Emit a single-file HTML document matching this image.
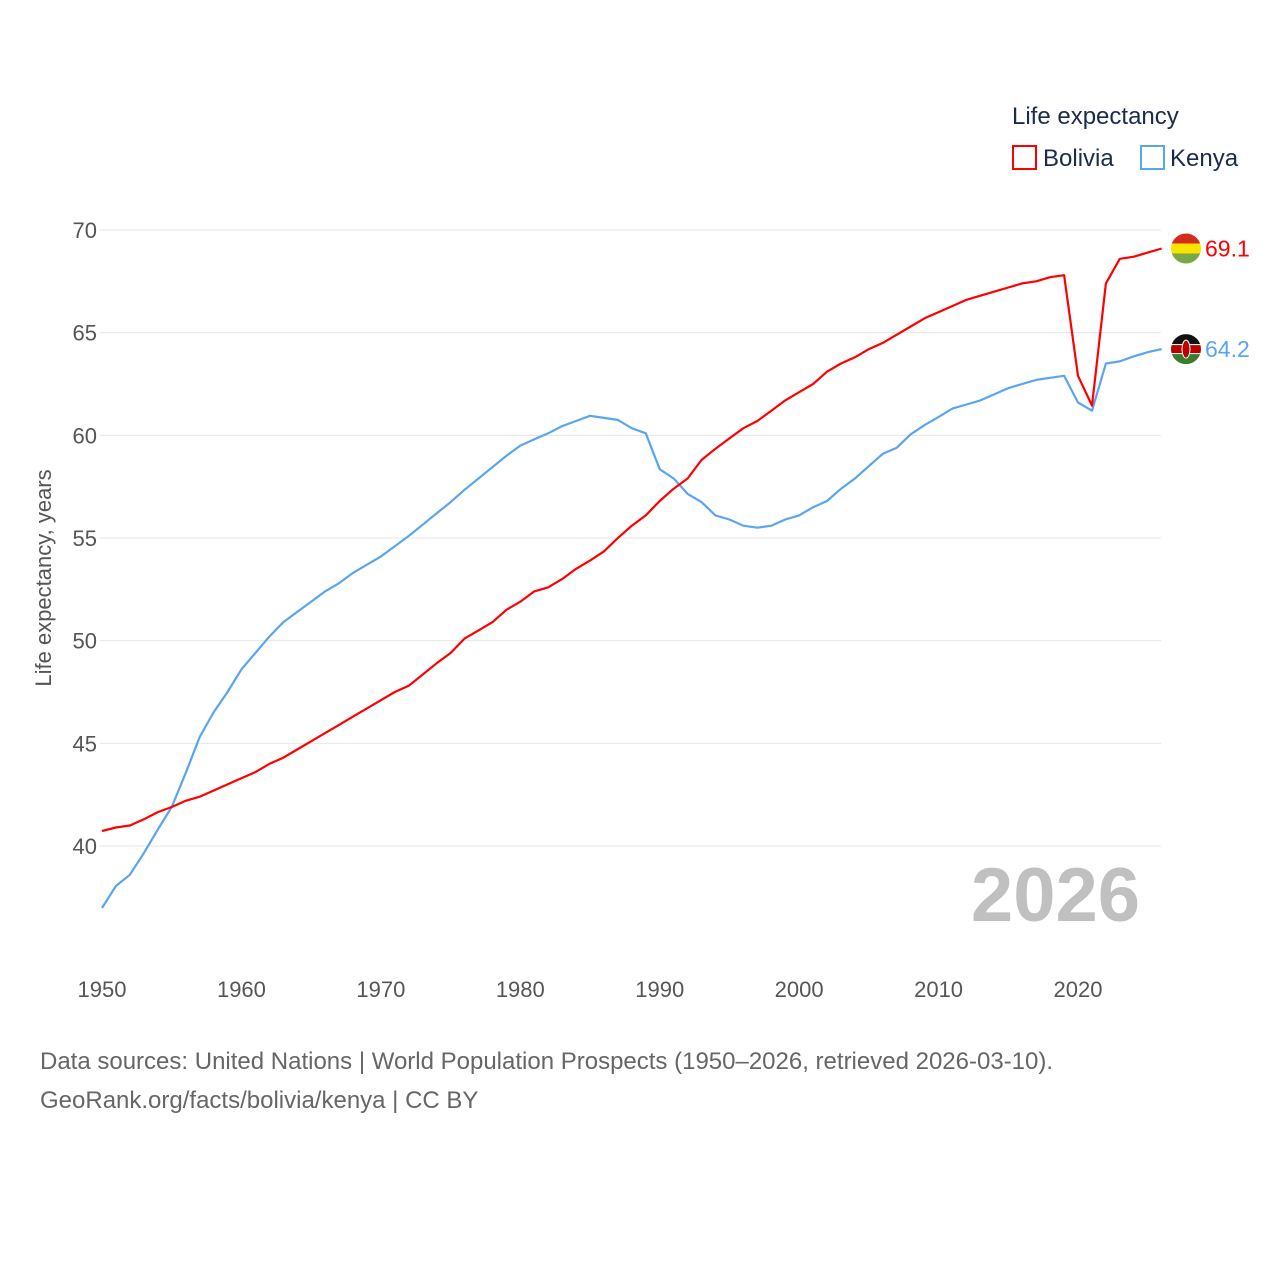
<!DOCTYPE html>
<html><head><meta charset="utf-8">
<style>
html,body{margin:0;padding:0;background:#fff;}
svg{display:block;font-family:"Liberation Sans",sans-serif;}
</style></head>
<body>
<svg id="chart" width="1280" height="1280" viewBox="0 0 1280 1280">
  <g id="grid"></g>
  <g id="yticks"></g>
  <g id="xticks"></g>
  <text transform="translate(51,578) rotate(-90)" text-anchor="middle" font-size="22" fill="#555">Life expectancy, years</text>
  <text x="1140" y="921" text-anchor="end" font-size="76" font-weight="bold" fill="#c0c0c0">2026</text>
  <g id="series"></g>
  <g>
    <text x="1012" y="124" font-size="24" fill="#1a2b4c">Life expectancy</text>
    <g>
      <rect x="1013" y="146" width="23" height="23" fill="none" stroke="#ff0000" stroke-width="2"/>
      <text x="1043" y="166" font-size="24" fill="#1a2b4c">Bolivia</text>
    </g>
    <g>
      <rect x="1141" y="146" width="23" height="23" fill="none" stroke="#5aa5f0" stroke-width="2"/>
      <text x="1170" y="166" font-size="24" fill="#1a2b4c">Kenya</text>
    </g>
  </g>
  <g id="ends"></g>
  <text x="40" y="1069" font-size="24" fill="#666">Data sources: United Nations | World Population Prospects (1950–2026, retrieved 2026-03-10).</text>
  <text x="40" y="1108" font-size="24" fill="#666">GeoRank.org/facts/bolivia/kenya | CC BY</text>
</svg>
<script>
const years = [];
for (let y = 1950; y <= 2026; y++) years.push(y);
const bolivia = [40.73,40.9,41.0,41.3,41.65,41.9,42.2,42.4,42.7,43.0,43.3,43.6,44.0,44.3,44.7,45.1,45.5,45.9,46.3,46.7,47.1,47.5,47.8,48.35,48.9,49.4,50.1,50.5,50.9,51.5,51.9,52.4,52.6,53.0,53.5,53.9,54.35,55.0,55.6,56.1,56.8,57.4,57.9,58.8,59.35,59.85,60.35,60.7,61.2,61.7,62.1,62.5,63.1,63.5,63.8,64.2,64.5,64.9,65.3,65.7,66.0,66.3,66.6,66.8,67.0,67.2,67.4,67.5,67.7,67.8,62.9,61.45,67.4,68.6,68.7,68.9,69.1];
const kenya = [36.98,38.05,38.6,39.65,40.8,41.9,43.55,45.3,46.5,47.5,48.6,49.4,50.2,50.9,51.4,51.9,52.4,52.8,53.3,53.7,54.1,54.6,55.1,55.65,56.2,56.75,57.35,57.9,58.45,59.0,59.5,59.8,60.1,60.45,60.7,60.95,60.85,60.75,60.35,60.1,58.35,57.9,57.15,56.75,56.1,55.9,55.6,55.5,55.6,55.9,56.1,56.5,56.8,57.4,57.9,58.5,59.1,59.4,60.05,60.5,60.9,61.3,61.5,61.7,62.0,62.3,62.5,62.7,62.8,62.9,61.6,61.2,63.5,63.6,63.85,64.05,64.2];
const yTicks = [40,45,50,55,60,65,70];
const xTicks = [1950,1960,1970,1980,1990,2000,2010,2020];

const NS = "http://www.w3.org/2000/svg";
const xS = v => 102 + (v - 1950) * 13.943;
const yS = v => 846 - (v - 40) * 20.533;
function mk(tag, attrs, parent){const e=document.createElementNS(NS,tag);for(const k in attrs)e.setAttribute(k,attrs[k]);parent.appendChild(e);return e;}

const grid=document.getElementById('grid'), yt=document.getElementById('yticks'), xt=document.getElementById('xticks');
yTicks.forEach(v=>{
  const l=mk('line',{x1:100,x2:1161,y1:yS(v),y2:yS(v),stroke:'#e6e6e6','stroke-width':1},grid);
  
  
  const t=mk('text',{x:97,y:yS(v)+8,'text-anchor':'end','font-size':22,fill:'#555'},yt);
  t.textContent=v;
  
  
});
xTicks.forEach(v=>{
  const t=mk('text',{x:xS(v),y:997,'text-anchor':'middle','font-size':22,fill:'#555'},xt);
  t.textContent=v;
  
  
});
const ser=document.getElementById('series');
function line(data,color,name){
  const d=data.map((v,i)=>(i?'L':'M')+xS(years[i]).toFixed(1)+','+yS(v).toFixed(1)).join(' ');
  const p=mk('path',{d:d,fill:'none',stroke:color,'stroke-width':2.2,'stroke-linejoin':'round'},ser);
  
  
}
line(kenya,'#5aa5f0','kenya-line');
line(bolivia,'#ff0000','bolivia-line');

const ends=document.getElementById('ends');
function endLabel(data,color,name,flag){
  const v=data[data.length-1], cx=1186, cy=yS(v);
  const g=mk('g',{},ends);
  
  
  const cid='clip-'+name;
  const cp=mk('clipPath',{id:cid},g); mk('circle',{cx:cx,cy:cy,r:15},cp);
  const fg=mk('g',{'clip-path':'url(#'+cid+')'},g);
  flag.forEach((c,i)=>mk('rect',{x:cx-15,y:cy-15+i*10,width:30,height:10,fill:c},fg));
  if(name==='kenya'){
    mk('rect',{x:cx-15,y:cy-4,width:30,height:8,fill:'#bb0000'},fg);
    mk('ellipse',{cx:cx,cy:cy,rx:4,ry:9,fill:'#bb0000',stroke:'#fff','stroke-width':1},fg);
  }
  const t=mk('text',{x:1205,y:cy+8,'font-size':23,fill:color},g);
  t.textContent=v.toFixed(1);
}
endLabel(bolivia,'#ff0000','bolivia',['#d52b1e','#f9e300','#79a646']);
endLabel(kenya,'#5aa5f0','kenya',['#111','#fff','#3a7d2c']);
</script>
</body></html>
